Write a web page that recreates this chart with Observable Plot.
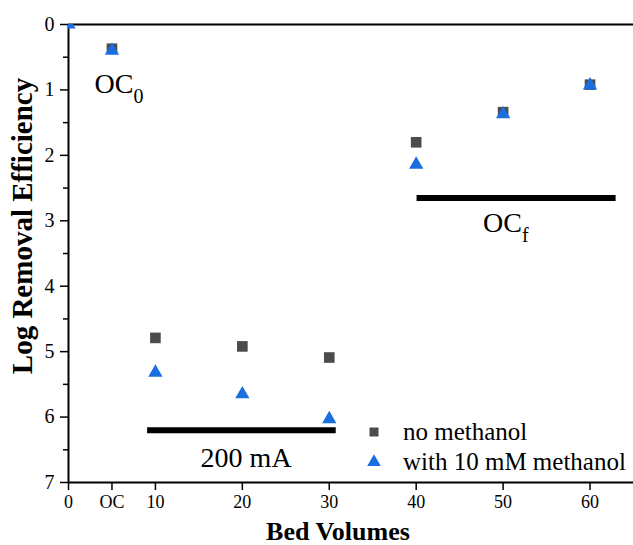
<!DOCTYPE html>
<html>
<head>
<meta charset="utf-8">
<script src="https://cdn.jsdelivr.net/npm/d3@7"></script>
<script src="https://cdn.jsdelivr.net/npm/@observablehq/plot@0.6"></script>
<style>
  body { margin: 0; background: #fff; }
  #wrap { position: relative; width: 633px; height: 545px; }
</style>
</head>
<body>
<div id="wrap"></div>
<script>
// ---- data ----
const bedVolumes    = [0, 5, 10, 20, 30, 40, 50, 60];          // 5 = "OC"
const noMethanol    = [null, 0.37, 4.79, 4.92, 5.09, 1.80, 1.34, 0.92];
const withMethanol  = [0, 0.40, 5.32, 5.65, 6.03, 2.14, 1.37, 0.93];
const seriesNames   = ["no methanol", "with 10 mM methanol"];
const seriesColors  = ["#4c4c4c", "#1a6ee0"];
const xTicks        = [0, 5, 10, 20, 30, 40, 50, 60];
const xTickLabels   = ["0", "OC", "10", "20", "30", "40", "50", "60"];
const yTicks        = [0, 1, 2, 3, 4, 5, 6, 7];
const yTickLabels   = ["0", "1", "2", "3", "4", "5", "6", "7"];
const yMinorTicks   = [0.5, 1.5, 2.5, 3.5, 4.5, 5.5, 6.5];
const phaseLabels   = ["OC", "200 mA", "OC"];
const phaseSubs     = ["0", "", "f"];
const phaseLabelX   = [3.0, 15.2, 47.7];
const phaseLabelY   = [1.05, 6.77, 3.17];
const phaseBarLabel = ["200 mA", "OCf"];
const phaseBarX1    = [9.1, 40.1];
const phaseBarX2    = [30.8, 63.0];
const phaseBarY     = [6.2, 2.65];

// ---- tables ----
const pts = [];
bedVolumes.forEach((x, i) => {
  if (noMethanol[i] != null) pts.push({x, y: noMethanol[i], s: seriesNames[0]});
});
bedVolumes.forEach((x, i) => {
  if (withMethanol[i] != null) pts.push({x, y: withMethanol[i], s: seriesNames[1]});
});
const bars = phaseBarLabel.map((l, i) => ({l, x1: phaseBarX1[i], x2: phaseBarX2[i], y: phaseBarY[i]}));
const labels = phaseLabels.map((t, i) => ({t, sub: phaseSubs[i], x: phaseLabelX[i], y: phaseLabelY[i]}));

const font = "'Liberation Serif', 'Times New Roman', serif";

const chart = Plot.plot({
  width: 633,
  height: 545,
  marginLeft: 68,
  marginRight: 0,
  marginTop: 24,
  marginBottom: 63,
  style: {fontFamily: font, background: "#fff", color: "#000", overflow: "visible"},
  x: {domain: [0, 65]},
  y: {domain: [0, 7], reverse: true},
  marks: [
    Plot.axisX({ticks: xTicks, tickFormat: d => xTickLabels[xTicks.indexOf(d)], tickSize: 8, tickPadding: 5,
                fontSize: 18, strokeWidth: 1.5, label: null}),
    Plot.axisY({ticks: yTicks, tickFormat: d => yTickLabels[yTicks.indexOf(d)], tickSize: 8, tickPadding: 6,
                fontSize: 20, strokeWidth: 1.5, label: null}),
    Plot.axisY({ticks: yMinorTicks, tickSize: 5, tickFormat: () => "", strokeWidth: 1.5, label: null}),
    Plot.ruleX([0], {strokeWidth: 2}),
    Plot.ruleY([yTicks[0], yTicks[yTicks.length - 1]], {strokeWidth: 2}),
    Plot.ruleY(bars, {y: "y", x1: "x1", x2: "x2", strokeWidth: 6, stroke: "#000"}),
    Plot.text(labels, {x: "x", y: "y", text: "t", textAnchor: "start", lineAnchor: "bottom", fontSize: 28, fill: "#000"}),
    Plot.dot(pts.filter(d => d.s === seriesNames[0]), {x: "x", y: "y", symbol: "square", r: 6, fill: seriesColors[0], clip: true}),
    Plot.dot(pts.filter(d => d.s === seriesNames[1]), {x: "x", y: "y", symbol: "triangle", r: 5.3, fill: seriesColors[1], clip: true})
  ]
});

document.getElementById("wrap").appendChild(chart);

const svg = d3.select(chart);
// subscripts on the phase labels
svg.selectAll('g[aria-label="text"] text').each(function(_, i) {
  const sub = labels[i] && labels[i].sub;
  if (sub) {
    d3.select(this).append("tspan").attr("dy", 10).attr("font-size", 20).text(sub);
  }
});

// axis titles
svg.append("text")
  .attr("x", 338).attr("y", 540)
  .attr("text-anchor", "middle")
  .attr("font-family", font).attr("font-weight", "bold").attr("font-size", 26)
  .text("Bed Volumes");
svg.append("text")
  .attr("transform", "translate(32,226) rotate(-90)")
  .attr("text-anchor", "middle")
  .attr("font-family", font).attr("font-weight", "bold").attr("font-size", 29)
  .text("Log Removal Efficiency");

// legend
const leg = svg.append("g").attr("font-family", font).attr("font-size", 25).attr("text-anchor", "start");
const symSq = d3.symbol(d3.symbolSquare, 81)();
const symTri = d3.symbol(d3.symbolTriangle, 80)();
[symSq, symTri].forEach((p, i) => {
  const cy = 432 + i * 30;
  leg.append("path").attr("d", p).attr("fill", seriesColors[i]).attr("transform", `translate(374,${cy})`);
  leg.append("text").attr("x", 403).attr("y", cy + 7.5).attr("text-anchor", "start").text(seriesNames[i]);
});
</script>
</body>
</html>
